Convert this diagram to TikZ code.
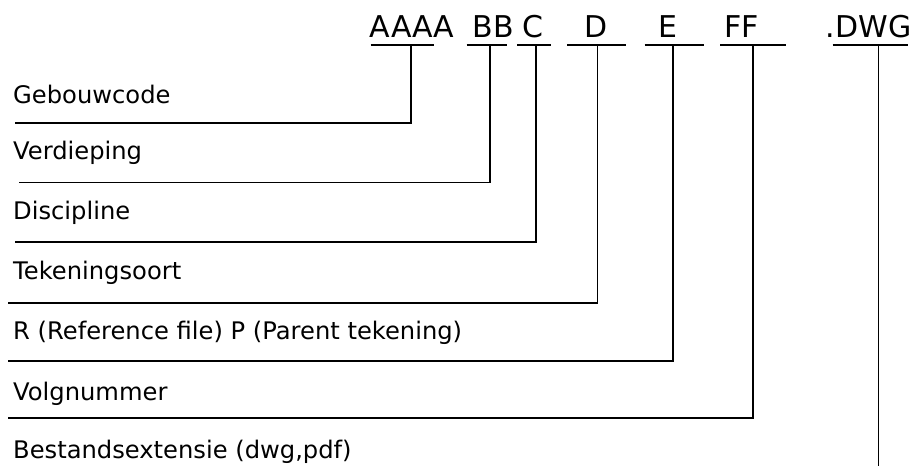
\documentclass[tikz,border=0pt]{standalone}
\usepackage{fontspec}
\setmainfont{DejaVu Sans}
\begin{document}
\begin{tikzpicture}[x=1pt,y=-1pt,
  code/.style={anchor=base,inner sep=0pt,font=\fontsize{30}{32}\selectfont},
  lbl/.style={anchor=base west,inner sep=0pt,font=\fontsize{24.2}{26}\selectfont},
  rule/.style={draw=black,line width=2pt},
  leader/.style={draw=black,line width=1.9pt}]
\useasboundingbox (0,0) rectangle (911,470);
% top codes
\node[code] (cA) at (412,38) {AAAA};
\node[code] (cB) at (493.5,38) {BB};
\node[code] (cC) at (533,38) {C};
\node[code] (cD) at (596.5,38) {D};
\node[code] (cE) at (668,38) {E};
\node[code] (cF) at (741.5,38) {FF};
\node[code] (cG) at (868.5,38) {.DWG};
% underline end points
\coordinate (uA1) at (370.5,45); \coordinate (uA2) at (433.8,45);
\coordinate (uB1) at (466.5,45); \coordinate (uB2) at (507,45);
\coordinate (uC1) at (517,45);   \coordinate (uC2) at (551,45);
\coordinate (uD1) at (567,45);   \coordinate (uD2) at (626,45);
\coordinate (uE1) at (644.6,45); \coordinate (uE2) at (703.6,45);
\coordinate (uF1) at (720,45);   \coordinate (uF2) at (786,45);
\coordinate (uG1) at (832.6,45); \coordinate (uG2) at (908,45);
\foreach \k in {A,B,C,D,E,F,G} \draw[rule] (u\k1) -- (u\k2);
% tick points
\coordinate (tA) at (411,45);
\coordinate (tB) at (490,45);
\coordinate (tC) at (536,45);
\coordinate (tD) at (597.5,45);
\coordinate (tE) at (672.7,45);
\coordinate (tF) at (752.7,45);
\coordinate (tG) at (878.5,45);
% leader ends
\coordinate (eA) at (15,123);
\coordinate (eB) at (19,182.5);
\coordinate (eC) at (15,242);
\coordinate (eD) at (8,303);
\coordinate (eE) at (8,361);
\coordinate (eF) at (8,418);
\coordinate (eG) at (878.5,466);
\draw[leader] (tA) |- (eA);
\draw[leader] (tB) |- (eB);
\draw[leader] (tC) |- (eC);
\draw[leader] (tD) |- (eD);
\draw[leader] (tE) |- (eE);
\draw[leader] (tF) |- (eF);
\draw[leader] (tG) -- (eG);
% labels
\node[lbl] (lA) at (13,104) {Gebouwcode};
\node[lbl] (lB) at (13,160) {Verdieping};
\node[lbl] (lC) at (13,220) {Discipline};
\node[lbl] (lD) at (13,280) {Tekeningsoort};
\node[lbl] (lE) at (13,340) {R (Reference file) P (Parent tekening)};
\node[lbl] (lF) at (13,401) {Volgnummer};
\node[lbl] (lG) at (13,458) {Bestandsextensie (dwg,pdf)};
\end{tikzpicture}
\end{document}
